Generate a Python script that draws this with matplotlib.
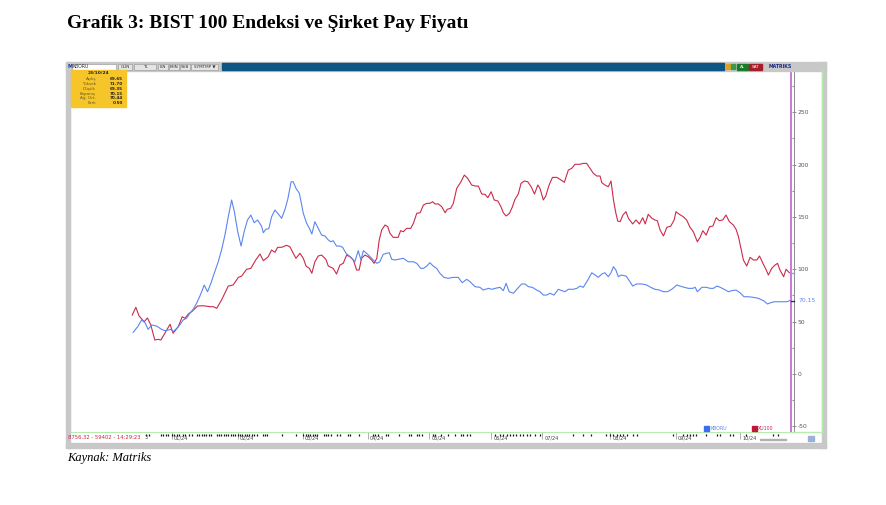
import matplotlib
matplotlib.use("Agg")
import matplotlib.pyplot as plt
import matplotlib.transforms as mtransforms
from matplotlib.patches import Rectangle

# trading-day index from first session (mid Dec 2023) -> normalised value
xu100_day = [0.1, 1.3, 2.3, 4.0, 5.1, 6.2, 7.5, 8.6, 9.5, 10.8, 12.5, 13.5, 15.2, 16.5, 17.4,
             18.5, 19.6, 21.5, 23.4, 25.6, 26.7, 27.8, 29.4, 31.6, 33.2, 34.9, 36.0, 37.6, 39.0,
             40.6, 42.0, 43.1, 44.7, 45.8, 46.9, 47.8, 49.1, 50.7, 51.8, 52.9, 53.8, 55.1, 56.2,
             57.1, 58.2, 59.0, 60.0, 61.1, 62.2, 63.6, 64.4, 66.0, 67.1, 68.2, 69.3, 70.4, 71.5,
             72.6, 73.7, 74.5, 75.3, 76.4, 77.5, 78.6, 79.4, 80.3, 81.1, 81.9, 83.0, 83.9, 84.6,
             85.7, 87.3, 88.1, 89.0, 90.1, 91.4, 92.3, 93.4, 94.5, 95.6, 96.7, 97.7, 98.6, 99.4,
             100.5, 101.6, 102.7, 103.4, 104.5, 105.4, 106.5, 107.9, 109.0, 110.1, 111.4, 112.7,
             113.6, 114.7, 115.8, 116.7, 117.8, 118.8, 120.0, 121.0, 121.8, 122.7, 123.8, 124.7,
             125.6, 126.7, 127.6, 128.7, 129.8, 130.9, 132.0, 133.1, 133.8, 134.9, 135.7, 136.8,
             137.9, 139.3, 140.4, 141.8, 143.1, 144.2, 145.3, 146.9, 148.0, 149.1, 150.2, 151.3,
             152.4, 153.5, 154.1, 155.1, 156.2, 157.1, 157.9, 158.7, 159.3, 160.1, 161.0, 162.0,
             162.8, 164.2, 165.3, 166.4, 167.5, 168.3, 169.3, 170.5, 171.5, 172.3, 173.2, 174.3,
             175.4, 176.7, 177.8, 178.4, 179.5, 180.8, 181.9, 183.0, 184.1, 185.4, 186.3, 187.2,
             188.3, 189.4, 190.5, 191.6, 192.6, 193.7, 194.8, 195.9, 197.2, 198.1, 198.9, 199.7,
             200.5, 201.6, 202.7, 203.8, 204.9, 205.8, 206.9, 207.9, 208.7, 209.8, 210.9, 211.7,
             212.5, 213.7, 214.5, 215.6]
xu100 = [56.3, 63.7, 55.7, 49.9, 53.5, 46.8, 32.5, 33.1, 32.5, 38.9, 47.5, 38.9, 45.2, 54.7, 53.2,
         57.3, 59.5, 64.9, 65.2, 64.3, 64.3, 62.7, 70.7, 84.0, 85.0, 92.3, 93.6, 100.0, 100.9,
         108.9, 114.6, 108.2, 112.0, 118.4, 116.2, 121.0, 121.0, 122.9, 121.6, 115.3, 110.5, 115.3, 110.5,
         103.1, 100.9, 96.2, 107.2, 112.7, 113.6, 109.5, 103.1, 100.9, 95.5, 104.1, 105.7, 113.6, 112.0,
         108.9, 99.3, 99.3, 110.5, 113.6, 112.0, 108.9, 105.7, 110.5, 128.0, 137.5, 142.3, 140.7, 134.4,
         130.5, 130.5, 136.9, 135.9, 139.1, 139.1, 143.9, 153.5, 154.0, 161.4, 163.0, 163.0, 164.5, 162.4,
         162.4, 159.8, 154.0, 157.3, 158.2, 163.0, 177.3, 183.6, 190.0, 186.9, 180.5, 179.5,
         179.5, 171.9, 171.6, 168.4, 174.1, 166.2, 165.2, 159.8, 154.0, 150.9, 153.5, 159.2,
         166.8, 171.9, 182.1, 184.3, 183.6, 178.9, 171.9, 180.5, 177.3, 166.2, 170.0, 180.5,
         187.8, 187.8, 185.9, 183.1, 194.8, 196.4, 200.3, 200.3, 201.2, 201.2, 196.4, 191.7,
         189.1, 189.1, 182.7, 180.5, 178.9, 184.3, 166.2, 153.5, 146.1, 145.5, 151.8, 155.0,
         148.7, 143.3, 147.1, 143.3, 149.3, 143.3, 152.5, 148.7, 147.1, 146.4, 137.5, 131.8,
         140.1, 141.3, 147.1, 155.0, 152.5, 150.2, 147.1, 140.1, 135.9, 126.3, 130.5, 136.9,
         132.7, 140.7, 141.3, 149.3, 146.4, 147.1, 151.8, 145.5, 142.3, 138.2, 131.1, 120.0,
         108.9, 103.1, 111.4, 108.9, 108.9, 112.7, 105.7, 100.0, 94.5, 100.9, 104.1, 105.7,
         99.3, 92.9, 100.0, 96.7]

kboru_day = [0.4, 1.9, 3.2, 4.3, 5.3, 6.5, 8.1, 9.7, 10.8, 11.9, 12.8, 13.5, 14.7, 15.7, 16.8,
             17.9, 19.0, 20.1, 21.2, 22.3, 23.1, 23.7, 24.8, 25.9, 27.0, 28.3, 29.4, 30.5, 31.6,
             32.7, 33.6, 34.7, 35.8, 36.8, 37.9, 39.0, 40.1, 41.2, 42.5, 43.1, 43.9, 44.9, 45.8,
             46.9, 48.0, 49.1, 50.2, 51.1, 52.2, 52.9, 53.8, 54.9, 56.2, 57.3, 58.2, 59.0, 60.0,
             61.1, 62.2, 63.3, 64.4, 65.2, 66.0, 67.1, 68.2, 69.1, 70.2, 71.3, 72.1, 73.1, 74.2,
             75.1, 75.9, 77.2, 78.1, 79.1, 80.3, 81.3, 82.4, 83.5, 84.4, 85.2, 86.3, 87.3, 89.0,
             90.6, 92.3, 93.4, 94.7, 95.6, 96.7, 97.7, 98.8, 99.9, 101.0, 102.3, 103.7, 105.4,
             107.0, 108.3, 109.8, 110.9, 112.5, 114.1, 115.2, 116.9, 118.0, 119.1, 120.7, 121.8,
             122.7, 123.7, 125.1, 126.2, 127.8, 128.9, 130.0, 131.3, 132.7, 133.8, 134.9, 136.0,
             137.1, 138.4, 139.8, 141.1, 142.0, 143.1, 144.7, 145.9, 146.9, 148.0, 149.5, 150.8,
             151.9, 152.9, 154.1, 155.1, 156.2, 157.1, 157.9, 158.7, 159.5, 160.4, 162.0, 163.1,
             164.2, 165.5, 167.2, 168.8, 170.1, 171.5, 172.9, 174.3, 175.6, 177.0, 178.7, 179.7,
             181.1, 182.5, 183.9, 184.7, 185.4, 186.9, 188.3, 189.6, 190.7, 191.8, 192.9, 194.2,
             195.6, 196.7, 198.1, 199.4, 200.7, 202.1, 203.8, 205.4, 207.1, 208.4, 209.5, 210.6,
             212.0, 213.7, 214.7, 215.8]
kboru = [39.8, 45.2, 51.6, 49.0, 42.7, 46.8, 45.8, 42.7, 41.4, 42.0, 42.7, 40.4, 43.6, 46.8, 51.6,
         53.2, 58.0, 61.8, 67.5, 74.5, 80.2, 85.0, 78.6, 86.6, 96.2, 107.2, 118.4, 132.7, 150.2,
         166.2, 155.0, 135.9, 122.2, 135.9, 147.1, 151.8, 144.5, 147.1, 141.3, 134.9, 138.2, 138.8, 150.2,
         156.6, 152.8, 148.7, 157.3, 166.8, 183.6, 183.6, 177.3, 172.6, 153.5, 143.9, 139.1, 133.7, 145.5,
         139.1, 132.7, 131.8, 128.0, 126.3, 127.3, 122.2, 122.2, 121.0, 115.3, 112.7, 110.5, 107.2, 117.8,
         108.9, 117.8, 114.6, 112.0, 108.9, 105.7, 107.2, 114.3, 115.3, 115.8, 109.5, 108.9, 109.5, 110.5,
         107.2, 107.2, 105.7, 100.9, 100.9, 103.1, 106.3, 103.1, 100.9, 96.2, 92.3, 91.4, 92.3,
         92.3, 87.2, 90.4, 88.1, 83.4, 82.8, 80.2, 81.8, 80.9, 81.8, 82.8, 79.6,
         86.6, 78.6, 77.1, 80.9, 86.0, 86.0, 83.4, 82.8, 80.2, 78.6, 75.4, 75.4,
         77.1, 75.4, 80.9, 79.6, 78.6, 80.9, 80.9, 81.8, 84.0, 82.8, 89.8, 96.7,
         94.5, 92.3, 95.5, 96.7, 92.9, 96.7, 102.5, 99.3, 92.9, 94.5, 93.6, 89.1,
         84.0, 86.0, 86.0, 85.0, 82.8, 80.9, 80.2, 78.6, 78.6, 80.9, 85.0, 84.0,
         82.8, 81.8, 81.8, 82.8, 78.6, 82.8, 82.8, 81.8, 81.8, 84.0, 82.8, 80.9,
         78.6, 79.6, 80.2, 77.6, 73.8, 73.8, 73.2, 72.3, 70.0, 66.9, 68.1, 69.0,
         69.0, 69.0, 69.0, 70.15]

month_day = [13.1, 34.8, 56.0, 77.3, 97.5, 117.8, 134.6, 156.8, 178.4, 199.4]
month_labels = ["01/24", "02/24", "03/24", "04/24", "05/24", "06/24", "07/24", "08/24", "09/24", "10/24"]

# small event markers along the date strip
event_day = [4.6, 5.6, 9.5, 10.2, 11.1, 11.8, 13.1, 13.8, 14.8, 15.4, 16.7, 17.4, 18.7, 19.7,
             21.3, 22.0, 23.0, 23.6, 24.3, 25.2, 25.9, 27.9, 28.5, 29.2, 30.2, 30.8, 31.5, 32.5,
             33.1, 33.8, 34.8, 35.4, 36.1, 37.0, 37.7, 38.4, 39.3, 40.0, 41.0, 43.0, 43.6, 44.3,
             49.2, 53.8, 56.1, 57.0, 57.7, 58.4, 59.3, 60.0, 60.7, 63.0, 63.6, 64.3, 65.2, 67.2,
             68.2, 70.8, 71.5, 74.4, 79.0, 79.7, 80.7, 83.3, 83.9, 87.5, 90.8, 91.5, 93.4, 94.1,
             95.1, 98.7, 99.3, 101.5, 103.7, 105.9, 107.8, 108.6, 109.9, 111.0, 119.0, 120.7,
             121.7, 122.9, 123.9, 125.0, 126.1, 127.2, 128.3, 129.4, 130.5, 132.1, 133.8, 144.7,
             148.0, 150.7, 155.6, 156.9, 157.8, 158.9, 160.0, 161.1, 162.2, 164.4, 165.5, 177.5,
             180.8, 181.9, 183.0, 184.1, 185.1, 188.4, 191.7, 192.8, 196.1, 197.2, 201.5, 210.3,
             211.9]

info_labels = ["Açılış", "Yüksek", "Düşük", "Kapanış", "Ağ. Ort.", "Fark"]
info_values = ["69.65", "71.70", "69.35", "70.15", "70.44", "0.50"]
last_day = 216.0

blue = "#5a86f0"
red = "#cc2a4a"
green = "#b6ecae"

fig = plt.figure(figsize=(8.86, 5.05), dpi=100)
fig.patch.set_facecolor("white")

W, H = 886, 505
ax = fig.add_axes([70 / W, 1 - 432 / H, 724 / W, 361 / H])
ax.plot(xu100_day, xu100, color=red, lw=0.8, zorder=3)
ax.plot(kboru_day, kboru, color=blue, lw=0.8, zorder=4)
ax.set_xlim(-20.3, 217.1)
ax.set_ylim(-55.4, 289.4)
ax.axvline(last_day, color="#c060d0", lw=1.2, zorder=5)

ax.spines["top"].set_visible(False)
ax.spines["left"].set_color(green)
ax.spines["bottom"].set_color(green)
ax.spines["right"].set_color("#8c8c8c")
ax.spines["right"].set_linewidth(0.7)

ax.yaxis.tick_right()
ax.set_yticks([-50, 0, 50, 100, 150, 200, 250])
ax.set_yticklabels(["-50", "0", "50", "100", "150", "200", "250"])
ax.set_yticks([-25, 25, 75, 125, 175, 225, 275], minor=True)
ax.tick_params(axis="y", which="major", direction="inout", length=3, width=0.6,
               color="#808080", labelsize=4.3, labelcolor="#555555", pad=1)
ax.tick_params(axis="y", which="minor", direction="in", length=1.8, width=0.6, color="#808080")

ax.set_xticks(month_day)
ax.set_xticklabels([])
ax.tick_params(axis="x", direction="out", length=5, width=0.5, color="#909090")
lbl_tr = mtransforms.offset_copy(ax.get_xaxis_transform(), fig=fig, x=1.5, y=0, units="points")
for d, lab in zip(month_day, month_labels):
    ax.text(d, -0.018, lab, transform=lbl_tr, fontsize=3.6, color="#444444",
            ha="left", va="center", clip_on=False)
ax.scatter(event_day, [-0.0085] * len(event_day), transform=ax.get_xaxis_transform(),
           marker="|", s=4, lw=0.9, color="#111111", clip_on=False, zorder=8)

# last value markers on the price scale
ax.plot([last_day, 217.1], [kboru[-1], kboru[-1]], color="#1a2a9a", lw=1.0, clip_on=False, zorder=6)
ax.plot([last_day, 217.1], [xu100[-1], xu100[-1]], color="#8aa0d8", lw=1.0, clip_on=False, zorder=6)
ax.text(1.006, kboru[-1], "70.15", transform=ax.get_yaxis_transform(), fontsize=4.3,
        color=blue, va="center", ha="left")

# decorations of the terminal screenshot, in pixel coordinates
ov = fig.add_axes([0, 0, 1, 1], zorder=10)
ov.set_xlim(0, W)
ov.set_ylim(H, 0)
ov.axis("off")
ov.patch.set_alpha(0)

frame = "#c8c8c8"
ov.add_patch(Rectangle((66, 62), 760, 9, color=frame))
ov.add_patch(Rectangle((66, 62), 4, 386, color=frame))
ov.add_patch(Rectangle((822, 62), 4, 386, color=frame))
ov.add_patch(Rectangle((66, 443), 760, 5, color=frame))
ov.plot([822, 822], [71, 432], color=green, lw=1)
ov.plot([794, 822], [432, 432], color=green, lw=1)

# toolbar
ov.add_patch(Rectangle((222, 63), 502, 7, color="#0d5583"))
ov.text(67.5, 66.5, "M", fontsize=3.5, color="#1a3aa0", va="center", weight="bold")
ov.add_patch(Rectangle((72, 63.5), 44, 6, facecolor="white", edgecolor="#909090", lw=0.4))
ov.text(73, 66.5, "KBORU", fontsize=3.3, color="#333333", va="center")
for x0, x1, t in [(118, 132, "GÜN"), (134, 156, "TL"), (158, 168, "LIN"), (169, 179, "KHN"),
                  (180, 190, "SVB"), (191, 218, "SYMTMP ▼")]:
    ov.add_patch(Rectangle((x0, 63.5), x1 - x0, 6, facecolor="#e4e4e4", edgecolor="#909090", lw=0.4))
    ov.text((x0 + x1) / 2, 66.5, t, fontsize=3.0, color="#333333", va="center", ha="center")
ov.add_patch(Rectangle((737, 63.5), 11, 6, color="#1c7a2a"))
ov.text(742.5, 66.5, "AL", fontsize=3.0, color="white", va="center", ha="center")
ov.add_patch(Rectangle((749, 63.5), 13, 6, color="#a31f2a"))
ov.text(755.5, 66.5, "SAT", fontsize=3.0, color="white", va="center", ha="center")
ov.text(780, 66.5, "MATRIKS", fontsize=3.4, color="#1a2a80", va="center", ha="center", weight="bold")
ov.add_patch(Rectangle((726, 64), 4, 5, color="#e0a020"))
ov.add_patch(Rectangle((731, 64), 4, 5, color="#3a9a4a"))

# info box
ov.add_patch(Rectangle((71, 70), 55, 37, color="#f6c52a"))
ov.text(98.5, 73.5, "23/10/24", fontsize=3.2, color="#222222", va="center", ha="center", weight="bold")
for i, (lab, val) in enumerate(zip(info_labels, info_values)):
    yy = 79.3 + i * 4.75
    ov.text(96, yy, lab, fontsize=3.0, color="#6a5a20", va="center", ha="right")
    ov.text(123, yy, val, fontsize=3.0, color="#222222", va="center", ha="right", weight="bold")

# bottom status and legend
ov.text(68, 437.5, "8756.32 - 59402 - 14:29:23", fontsize=3.8, color="#d02040", va="center")
ov.text(145, 437.5, "3", fontsize=3.6, color="#444444", va="center")
ov.add_patch(Rectangle((704.5, 425.5), 5, 5, color="#3a6ef0"))
ov.text(711, 428, "KBORU", fontsize=3.4, color=blue, va="center")
ov.add_patch(Rectangle((752, 425.5), 5, 5, color="#c0163a"))
ov.text(758, 428, "XU100", fontsize=3.4, color=red, va="center")
ov.add_patch(Rectangle((760, 438.5), 26, 1.5, color="#b0b0b0"))
ov.add_patch(Rectangle((808, 436), 6, 5, color="#9ab0d8"))

ov.text(67, 24, "Grafik 3: BIST 100 Endeksi ve Şirket Pay Fiyatı", fontsize=14,
        family="Liberation Serif", weight="bold", va="center", ha="left")
ov.text(67, 458, "Kaynak: Matriks", fontsize=9, family="Liberation Serif",
        style="italic", va="center", ha="left")

fig.savefig("out.png", dpi=100)
